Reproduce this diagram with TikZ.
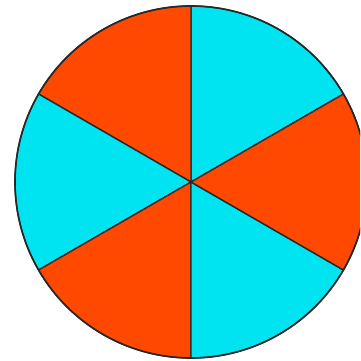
\documentclass[tikz,border=0pt]{standalone}
\definecolor{pcyan}{RGB}{0,228,242}
\definecolor{porange}{RGB}{255,72,0}
\definecolor{pline}{RGB}{40,40,40}
\tikzset{sector/.style={draw=pline,line width=1.4pt,line join=round}}
\begin{document}
\begin{tikzpicture}[x=1pt,y=1pt]
\useasboundingbox (0,0) rectangle (360,361);
\clip (0,0) rectangle (360,361);
\coordinate (c) at (191,179);
\foreach \a/\col in {30/pcyan,90/porange,150/pcyan,210/porange,270/pcyan,330/porange}{
  \filldraw[sector,fill=\col] (c) -- ++(\a:176) arc[start angle=\a,delta angle=60,radius=176] -- cycle;
}
\draw[pline,line width=1.6pt] (c) circle[radius=176];
\end{tikzpicture}
\end{document}
